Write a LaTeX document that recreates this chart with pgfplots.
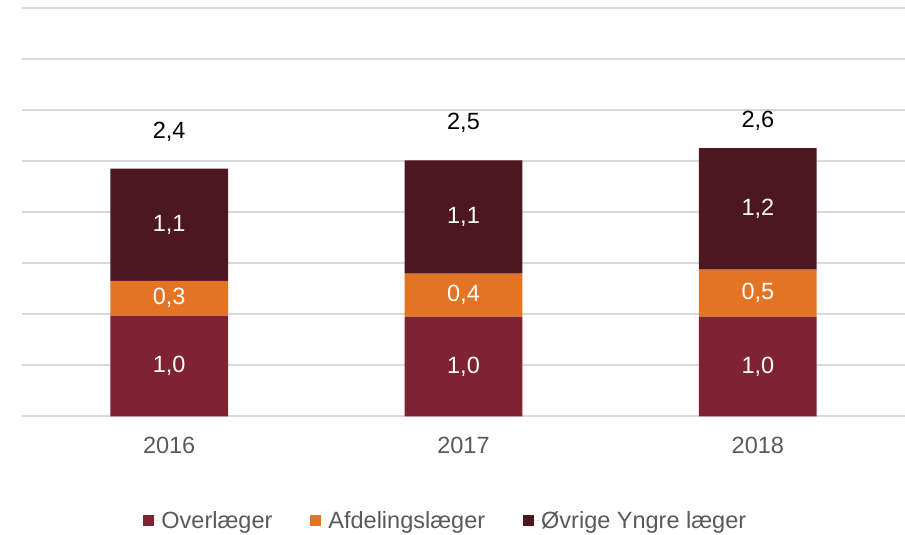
\documentclass[border=0pt]{standalone}
\usepackage{pgfplots}
\pgfplotsset{compat=1.18}
\usepackage{fontspec}
\setmainfont{Liberation Sans}
\definecolor{cOv}{HTML}{7F2333}
\definecolor{cAf}{HTML}{E37424}
\definecolor{cOe}{HTML}{4D1720}
\definecolor{cTxt}{HTML}{595959}
\definecolor{cGrid}{HTML}{D9D9D9}
\newcommand\f{\fontsize{23.5}{27}\selectfont}
\pgfplotsset{
  common/.style={
    at={(22pt,118.5pt)}, anchor=south west,
    scale only axis, width=883pt, height=408pt,
    xmin=-0.5, xmax=2.5, ymin=0, ymax=4, clip=false,
  },
  sq/.style={legend image code/.code={\fill[##1] (0pt,-5.5pt) rectangle (11pt,5.5pt); \path (0pt,0pt) -- (16pt,0pt);}},
}
\pgfplotstableread{
x ov af oe
0 0.99 0.34 1.10
1 0.98 0.42 1.11
2 0.98 0.46 1.19
}\bars
\pgfplotstableread{
x y lab
0 0.495 1,0
1 0.49 1,0
2 0.49 1,0
0 1.16 0,3
1 1.19 0,4
2 1.21 0,5
0 1.88 1,1
1 1.955 1,1
2 2.035 1,2
}\inner
\pgfplotstableread{
x y lab
0 2.79 2,4
1 2.88 2,5
2 2.90 2,6
}\totals
\begin{document}
\begin{tikzpicture}
\useasboundingbox (0,0) rectangle (905pt,535pt);
\begin{axis}[common,
  ybar stacked, bar width=0.4,
  axis line style={draw=none},
  major tick length=0pt,
  xtick={0,1,2}, xticklabels={2016,2017,2018},
  xticklabel style={font=\f, text=cTxt, anchor=center, yshift=-28.5pt},
  ytick={0,0.5,...,4}, yticklabels={},
  ymajorgrids, grid style={cGrid, line width=2pt},
  legend columns=-1,
  legend style={at={(0.48,-0.256)}, anchor=center, draw=none, fill=none,
     font=\f, text=cTxt, inner sep=0pt,
     /tikz/every even column/.append style={column sep=36pt}},
  legend cell align=left,
]
\addplot[fill=cOv, draw=none, sq] table[x=x,y=ov] {\bars};
\addlegendentry{Overlæger}
\addplot[fill=cAf, draw=none, sq] table[x=x,y=af] {\bars};
\addlegendentry{Afdelingslæger}
\addplot[fill=cOe, draw=none, sq] table[x=x,y=oe] {\bars};
\addlegendentry{Øvrige Yngre læger}
\end{axis}
\begin{axis}[common, hide axis]
\addplot[draw=none, nodes near coords, point meta=explicit symbolic,
  every node near coord/.append style={anchor=center, font=\f, text=white}]
  table[x=x,y=y,meta=lab] {\inner};
\addplot[draw=none, nodes near coords, point meta=explicit symbolic,
  every node near coord/.append style={anchor=center, font=\f, text=black}]
  table[x=x,y=y,meta=lab] {\totals};
\end{axis}
\end{tikzpicture}
\end{document}
